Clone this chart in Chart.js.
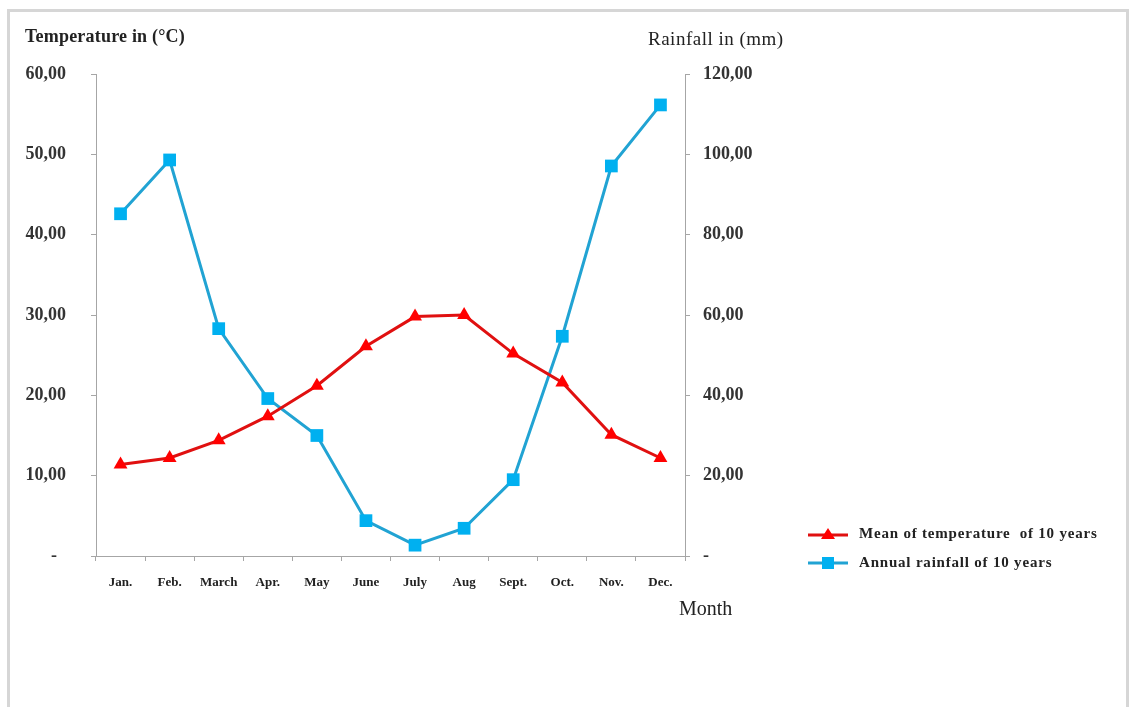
<!DOCTYPE html>
<html lang="en">
<head>
  <meta charset="UTF-8" />
  <title>Temperature and rainfall</title>
  <script src="https://cdn.jsdelivr.net/npm/chart.js"></script>
  <style>
    html, body {
      margin: 0;
      padding: 0;
      background: #fff;
      font-family: "Liberation Serif", serif;
      overflow: hidden;
    }

    .moldura {
      position: absolute;
      left: 7px;
      top: 9px;
      width: 1116px;
      height: 740px;
      border: 3px solid #d6d6d6;
    }

    #grafico {
      position: absolute;
      left: 0;
      top: 0;
    }

    .titulo {
      position: absolute;
      color: #222;
      white-space: nowrap;
    }

    .legenda {
      position: absolute;
      left: 806px;
      font-size: 15px;
      font-weight: bold;
      letter-spacing: 0.8px;
      color: #222;
      display: flex;
      align-items: center;
      white-space: nowrap;
    }
    .legenda svg { margin-right: 9px; }
  </style>
</head>
<body>
  <div class="moldura"></div>
  <canvas id="grafico" width="1129" height="707"></canvas>

  <div class="titulo" style="left:25px; top:26px; font-size:18px; font-weight:bold; letter-spacing:0.2px;">Temperature in (°C)</div>
  <div class="titulo" style="left:648px; top:28px; font-size:19px; letter-spacing:0.5px;">Rainfall in (mm)</div>
  <div class="titulo" style="left:679px; top:597px; font-size:20px;">Month</div>

  <div class="legenda" style="top:525px;">
    <svg width="44" height="16"><line x1="2" y1="9" x2="42" y2="9" stroke="#e01010" stroke-width="3"/><polygon points="22,2 29,13 15,13" fill="#ff0000"/></svg>
    Mean of temperature&nbsp; of 10 years
  </div>
  <div class="legenda" style="top:554px;">
    <svg width="44" height="16"><line x1="2" y1="8" x2="42" y2="8" stroke="#21a3d3" stroke-width="3"/><rect x="16" y="2" width="12" height="12" fill="#00b0f0"/></svg>
    Annual rainfall of 10 years
  </div>

  <script>
    const meses = ["Jan.", "Feb.", "March", "Apr.", "May", "June", "July", "Aug", "Sept.", "Oct.", "Nov.", "Dec."];
    const temperatura = [11.4, 12.2, 14.4, 17.4, 21.2, 26.1, 29.8, 30.0, 25.2, 21.6, 15.1, 12.2];
    const chuva = [85.2, 98.6, 56.6, 39.2, 30.0, 8.8, 2.7, 6.9, 19.0, 54.7, 97.1, 112.3];

    const ticksTemp = [0, 10, 20, 30, 40, 50, 60];
    const rotulosTemp = ["-  ", "10,00", "20,00", "30,00", "40,00", "50,00", "60,00"];
    const ticksChuva = [0, 20, 40, 60, 80, 100, 120];
    const rotulosChuva = ["-", "20,00", "40,00", "60,00", "80,00", "100,00", "120,00"];

    const cinza = "#a6a6a6";
    const fonteTicks = { family: "Liberation Serif", size: 18, weight: "bold" };

    new Chart(document.getElementById("grafico").getContext("2d"), {
      type: "line",
      data: {
        labels: meses,
        datasets: [
          {
            label: "Mean of temperature  of 10 years",
            data: temperatura,
            yAxisID: "y",
            borderColor: "#e01010",
            backgroundColor: "#ff0000",
            borderWidth: 3,
            pointStyle: "triangle",
            pointRadius: 8,
            pointBorderWidth: 0,
            tension: 0
          },
          {
            label: "Annual rainfall of 10 years",
            data: chuva,
            yAxisID: "y1",
            borderColor: "#21a3d3",
            backgroundColor: "#00b0f0",
            borderWidth: 3,
            pointStyle: "rect",
            pointRadius: 9,
            pointBorderWidth: 0,
            tension: 0
          }
        ]
      },
      options: {
        responsive: false,
        animation: false,
        layout: {
          padding: { top: 74, left: 0, right: 364, bottom: 96 }
        },
        plugins: {
          legend: { display: false },
          tooltip: { enabled: false }
        },
        scales: {
          x: {
            offset: true,
            grid: {
              offset: true,
              drawOnChartArea: false,
              drawTicks: true,
              tickLength: 5,
              color: cinza
            },
            border: { display: true, color: cinza, width: 1 },
            ticks: {
              padding: 14,
              color: "#222",
              font: { family: "Liberation Serif", size: 13, weight: "bold" }
            },
            afterFit: s => { s.height = 55; }
          },
          y: {
            position: "left",
            min: 0,
            max: 60,
            afterBuildTicks: s => { s.ticks = ticksTemp.map(v => ({ value: v })); },
            grid: { drawOnChartArea: false, tickLength: 5, color: cinza },
            border: { display: true, color: cinza, width: 1 },
            ticks: {
              padding: 25,
              color: "#333",
              font: fonteTicks,
              callback: v => rotulosTemp[ticksTemp.indexOf(v)]
            },
            afterFit: s => { s.width = 96; }
          },
          y1: {
            position: "right",
            min: 0,
            max: 120,
            afterBuildTicks: s => { s.ticks = ticksChuva.map(v => ({ value: v })); },
            grid: { drawOnChartArea: false, tickLength: 5, color: cinza },
            border: { display: true, color: cinza, width: 1 },
            ticks: {
              padding: 13,
              color: "#333",
              font: fonteTicks,
              callback: v => rotulosChuva[ticksChuva.indexOf(v)]
            },
            afterFit: s => { s.width = 80; }
          }
        }
      }
    });
  </script>
</body>
</html>
